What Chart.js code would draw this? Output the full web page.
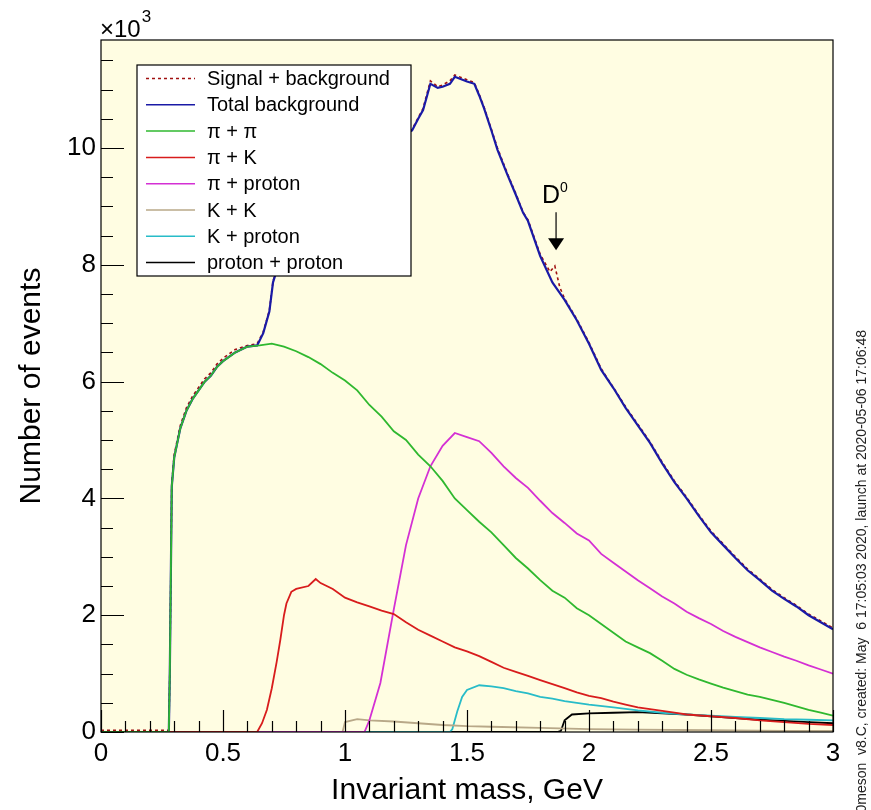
<!DOCTYPE html>
<html>
<head>
<meta charset="utf-8">
<script src="https://cdn.jsdelivr.net/npm/chart.js@4.4.1/dist/chart.umd.min.js"></script>
<style>
  html, body { margin: 0; padding: 0; background: #fff; }
</style>
</head>
<body>
<canvas id="chart" width="871" height="810"></canvas>
<script>
// invariant mass in GeV, counts in units of 10^3 events
const totalMass = [0, 0.27, 0.278, 0.282, 0.29, 0.30, 0.31, 0.325, 0.35, 0.375, 0.40, 0.425, 0.45, 0.475, 0.50, 0.55, 0.60, 0.64, 0.665, 0.69,
  0.705, 0.72, 0.75, 0.80, 0.90, 1.00, 1.10, 1.20, 1.275, 1.30, 1.32, 1.35, 1.38, 1.40, 1.43, 1.45, 1.50, 1.53, 1.55, 1.57,
  1.60, 1.625, 1.665, 1.70, 1.73, 1.75, 1.80, 1.85, 1.90, 1.95, 2.00, 2.05, 2.10, 2.15, 2.20, 2.25, 2.30, 2.35, 2.40, 2.45,
  2.50, 2.55, 2.60, 2.65, 2.70, 2.75, 2.80, 2.85, 2.90, 2.95, 3.00];
const totalCounts = [0, 0, 0, 1.0, 4.2, 4.7, 4.9, 5.2, 5.5, 5.7, 5.85, 6.0, 6.1, 6.25, 6.35, 6.5, 6.6, 6.62, 6.83, 7.2,
  7.7, 7.9, 8.4, 8.9, 9.5, 9.8, 10.0, 10.15, 10.3, 10.5, 10.65, 11.1, 11.03, 11.05, 11.1, 11.22, 11.14, 11.1, 10.9, 10.68,
  10.3, 9.97, 9.55, 9.2, 8.89, 8.75, 8.15, 7.7, 7.4, 7.05, 6.65, 6.2, 5.89, 5.55, 5.25, 4.95, 4.6, 4.28, 4.0, 3.7,
  3.42, 3.2, 2.98, 2.77, 2.6, 2.42, 2.28, 2.15, 2.0, 1.88, 1.76];

const signalMass = [0, 0.27, 0.278, 0.282, 0.29, 0.30, 0.31, 0.325, 0.35, 0.375, 0.40, 0.425, 0.45, 0.475, 0.50, 0.55, 0.60, 0.64, 0.665, 0.69,
  0.705, 0.72, 0.75, 0.80, 0.90, 1.00, 1.10, 1.20, 1.275, 1.30, 1.32, 1.35, 1.38, 1.40, 1.43, 1.45, 1.50, 1.53, 1.55, 1.57,
  1.60, 1.625, 1.665, 1.70, 1.73, 1.75, 1.80, 1.84, 1.86, 1.88, 1.90, 1.95, 2.00, 2.05, 2.10, 2.15, 2.20, 2.25, 2.30, 2.35,
  2.40, 2.45, 2.50, 2.55, 2.60, 2.65, 2.70, 2.75, 2.80, 2.85, 2.90, 2.95, 3.00];
const signalCounts = [0.03, 0.03, 0.03, 1.0, 4.25, 4.75, 4.95, 5.25, 5.55, 5.75, 5.9, 6.05, 6.15, 6.3, 6.4, 6.55, 6.62, 6.65, 6.85, 7.22,
  7.72, 7.92, 8.42, 8.92, 9.52, 9.82, 10.02, 10.17, 10.32, 10.52, 10.68, 11.15, 11.05, 11.08, 11.15, 11.25, 11.17, 11.12, 10.92, 10.7,
  10.32, 10.0, 9.57, 9.22, 8.9, 8.77, 8.18, 7.88, 7.98, 7.62, 7.42, 7.07, 6.67, 6.22, 5.9, 5.57, 5.27, 4.97, 4.62, 4.3,
  4.02, 3.72, 3.44, 3.22, 3.0, 2.79, 2.62, 2.44, 2.3, 2.17, 2.02, 1.9, 1.78];

const pipiMass = [0, 0.278, 0.282, 0.29, 0.30, 0.31, 0.325, 0.35, 0.375, 0.40, 0.425, 0.45, 0.475, 0.50, 0.55, 0.60, 0.65, 0.70, 0.75, 0.80,
  0.85, 0.90, 0.95, 1.00, 1.05, 1.10, 1.15, 1.20, 1.25, 1.30, 1.35, 1.40, 1.45, 1.50, 1.55, 1.60, 1.65, 1.70, 1.75, 1.80,
  1.85, 1.90, 1.95, 2.00, 2.05, 2.10, 2.15, 2.20, 2.25, 2.30, 2.35, 2.40, 2.45, 2.50, 2.55, 2.60, 2.65, 2.70, 2.75, 2.80,
  2.85, 2.90, 2.95, 3.00];
const pipiCounts = [0, 0, 1.0, 4.2, 4.7, 4.9, 5.2, 5.5, 5.7, 5.85, 6.0, 6.1, 6.25, 6.35, 6.5, 6.6, 6.62, 6.65, 6.6, 6.52,
  6.42, 6.3, 6.15, 6.02, 5.85, 5.6, 5.4, 5.15, 5.0, 4.75, 4.55, 4.3, 4.0, 3.8, 3.6, 3.42, 3.2, 2.98, 2.8, 2.6,
  2.42, 2.3, 2.12, 2.0, 1.85, 1.7, 1.55, 1.45, 1.35, 1.22, 1.08, 0.98, 0.9, 0.83, 0.76, 0.7, 0.64, 0.6, 0.55, 0.5,
  0.44, 0.38, 0.33, 0.28];

const piKMass = [0, 0.64, 0.66, 0.68, 0.70, 0.72, 0.735, 0.75, 0.76, 0.78, 0.80, 0.85, 0.88, 0.90, 0.95, 1.00, 1.05, 1.10, 1.15, 1.20,
  1.25, 1.30, 1.35, 1.40, 1.45, 1.50, 1.55, 1.60, 1.65, 1.70, 1.75, 1.80, 1.85, 1.90, 1.95, 2.00, 2.05, 2.10, 2.15, 2.20,
  2.25, 2.30, 2.35, 2.40, 2.50, 2.60, 2.70, 2.80, 2.90, 3.00];
const piKCounts = [0, 0, 0.15, 0.38, 0.75, 1.2, 1.58, 2.0, 2.2, 2.4, 2.45, 2.5, 2.62, 2.55, 2.45, 2.3, 2.22, 2.15, 2.08, 2.02,
  1.88, 1.75, 1.65, 1.55, 1.45, 1.38, 1.3, 1.2, 1.1, 1.03, 0.96, 0.89, 0.82, 0.75, 0.68, 0.62, 0.58, 0.52, 0.47, 0.42,
  0.39, 0.36, 0.33, 0.3, 0.27, 0.24, 0.2, 0.17, 0.14, 0.12];

const piPMass = [0, 1.08, 1.10, 1.145, 1.20, 1.25, 1.30, 1.35, 1.40, 1.45, 1.50, 1.55, 1.60, 1.65, 1.70, 1.75, 1.80, 1.85, 1.90, 1.95,
  2.00, 2.05, 2.10, 2.15, 2.20, 2.25, 2.30, 2.35, 2.40, 2.45, 2.50, 2.55, 2.60, 2.65, 2.70, 2.75, 2.80, 2.85, 2.90, 2.95, 3.00];
const piPCounts = [0, 0, 0.2, 0.84, 2.1, 3.2, 4.0, 4.55, 4.9, 5.12, 5.05, 4.98, 4.78, 4.55, 4.35, 4.18, 3.96, 3.75, 3.58, 3.4,
  3.28, 3.05, 2.9, 2.75, 2.6, 2.46, 2.32, 2.2, 2.06, 1.95, 1.85, 1.73, 1.63, 1.54, 1.45, 1.37, 1.29, 1.22, 1.14, 1.07, 1.0];

const KKMass = [0, 0.99, 1.0, 1.05, 1.1, 1.2, 1.3, 1.4, 1.5, 1.6, 1.8, 2.0, 2.2, 2.5, 2.8, 3.0];
const KKCounts = [0, 0, 0.17, 0.22, 0.2, 0.18, 0.15, 0.12, 0.1, 0.09, 0.07, 0.05, 0.04, 0.03, 0.02, 0.02];

const KPMass = [0, 1.43, 1.44, 1.46, 1.48, 1.50, 1.55, 1.60, 1.65, 1.70, 1.75, 1.80, 1.85, 1.90, 1.95, 2.00, 2.10, 2.20, 2.30, 2.40,
  2.50, 2.60, 2.70, 2.80, 2.90, 3.00];
const KPCounts = [0, 0, 0.05, 0.35, 0.6, 0.72, 0.8, 0.78, 0.75, 0.7, 0.66, 0.6, 0.57, 0.53, 0.5, 0.47, 0.42, 0.37, 0.33, 0.3,
  0.28, 0.26, 0.24, 0.22, 0.21, 0.2];

const PPMass = [0, 1.87, 1.885, 1.9, 1.93, 2.0, 2.1, 2.2, 2.3, 2.4, 2.5, 2.6, 2.7, 2.8, 2.9, 3.0];
const PPCounts = [0, 0, 0.02, 0.2, 0.3, 0.32, 0.33, 0.34, 0.32, 0.3, 0.27, 0.24, 0.21, 0.19, 0.17, 0.15];

const d0Mass = 1.865;
const d0ArrowFrom = 8.9;
const d0ArrowTo = 8.25;

const FONT = '"Liberation Sans", Arial, Helvetica, sans-serif';
Chart.defaults.font.family = FONT;

function pts(xs, ys) {
  return xs.map((x, i) => ({ x: x, y: ys[i] }));
}

function histSet(label, xs, ys, color, order, extra) {
  return Object.assign({
    label: label,
    data: pts(xs, ys),
    borderColor: color,
    backgroundColor: color,
    borderWidth: 1.8,
    pointRadius: 0,
    tension: 0,
    fill: false,
    order: order
  }, extra || {});
}

const rootStyle = {
  id: 'rootStyle',
  beforeDraw(chart) {
    const { ctx, chartArea: a } = chart;
    ctx.save();
    ctx.fillStyle = '#ffffff';
    ctx.fillRect(0, 0, chart.width, chart.height);
    ctx.fillStyle = '#fffde2';
    ctx.fillRect(a.left, a.top, a.right - a.left, a.bottom - a.top);
    ctx.restore();
  },
  afterDatasetsDraw(chart) {
    const { ctx, chartArea: a } = chart;
    const xs = chart.scales.x, ys = chart.scales.y;
    ctx.save();

    // frame + inward ticks
    ctx.strokeStyle = '#000';
    ctx.lineWidth = 1.2;
    ctx.strokeRect(a.left, a.top, a.right - a.left, a.bottom - a.top);
    ctx.beginPath();
    for (let i = 0; i <= 30; i++) {
      const px = Math.round(xs.getPixelForValue(i / 10)) + 0.5;
      const len = i % 5 === 0 ? 22 : 11;
      ctx.moveTo(px, a.bottom);
      ctx.lineTo(px, a.bottom - len);
    }
    for (let i = 0; i * 0.5 <= ys.max; i++) {
      const py = Math.round(ys.getPixelForValue(i * 0.5)) + 0.5;
      const len = i % 4 === 0 ? 23 : 12;
      ctx.moveTo(a.left, py);
      ctx.lineTo(a.left + len, py);
    }
    ctx.stroke();

    // legend box
    const lx = a.left + 36, ly = a.top + 25, lw = 274, lh = 211;
    ctx.fillStyle = '#fff';
    ctx.fillRect(lx, ly, lw, lh);
    ctx.lineWidth = 1.2;
    ctx.strokeStyle = '#000';
    ctx.strokeRect(lx, ly, lw, lh);
    ctx.font = '20px ' + FONT;
    ctx.textBaseline = 'middle';
    chart.data.datasets.forEach((ds, i) => {
      const y = ly + 13.5 + i * 26.3;
      ctx.beginPath();
      ctx.setLineDash(ds.borderDash || []);
      ctx.strokeStyle = ds.borderColor;
      ctx.lineWidth = 1.5;
      ctx.moveTo(lx + 9, y);
      ctx.lineTo(lx + 58, y);
      ctx.stroke();
      ctx.setLineDash([]);
      ctx.fillStyle = '#000';
      ctx.fillText(ds.label, lx + 70, y + 1);
    });

    // D0 arrow
    const ax = xs.getPixelForValue(d0Mass);
    const ay1 = ys.getPixelForValue(d0ArrowFrom);
    const ay2 = ys.getPixelForValue(d0ArrowTo);
    ctx.strokeStyle = '#000';
    ctx.lineWidth = 1.2;
    ctx.beginPath();
    ctx.moveTo(ax, ay1);
    ctx.lineTo(ax, ay2 - 10);
    ctx.stroke();
    ctx.fillStyle = '#000';
    ctx.beginPath();
    ctx.moveTo(ax - 8, ay2 - 12);
    ctx.lineTo(ax + 8, ay2 - 12);
    ctx.lineTo(ax, ay2);
    ctx.closePath();
    ctx.fill();
    ctx.textBaseline = 'alphabetic';
    ctx.textAlign = 'left';
    ctx.font = '25px ' + FONT;
    ctx.fillText('D', ax - 14, ay1 - 9);
    ctx.font = '14px ' + FONT;
    ctx.fillText('0', ax + 4, ay1 - 20);

    // x10^3 exponent
    ctx.font = '24px ' + FONT;
    const mult = '\u00d710';
    ctx.fillText(mult, a.left - 1, a.top - 3);
    const mw = ctx.measureText(mult).width;
    ctx.font = '17px ' + FONT;
    ctx.fillText('3', a.left + mw, a.top - 18);

    // run stamp on the right
    ctx.translate(862, 330);
    ctx.rotate(-Math.PI / 2);
    ctx.textAlign = 'right';
    ctx.textBaseline = 'middle';
    ctx.font = '14px ' + FONT;
    ctx.fillStyle = '#222';
    ctx.fillText('D0meson  v8.C, created: May  6 17:05:03 2020, launch at 2020-05-06 17:06:48', 0, 0);
    ctx.restore();
  }
};

new Chart(document.getElementById('chart'), {
  type: 'line',
  data: {
    datasets: [
      histSet('Signal + background', signalMass, signalCounts, '#a01010', 9, { borderDash: [3, 3], borderWidth: 1.6 }),
      histSet('Total background', totalMass, totalCounts, '#1a1aa6', 8, { borderWidth: 2.2 }),
      histSet('\u03c0 + \u03c0', pipiMass, pipiCounts, '#2fb82f', 1),
      histSet('\u03c0 + K', piKMass, piKCounts, '#d81c1c', 2),
      histSet('\u03c0 + proton', piPMass, piPCounts, '#d430d4', 3),
      histSet('K + K', KKMass, KKCounts, '#b8a888', 4),
      histSet('K + proton', KPMass, KPCounts, '#28bcc8', 5),
      histSet('proton + proton', PPMass, PPCounts, '#000000', 6)
    ]
  },
  options: {
    responsive: false,
    animation: false,
    events: [],
    layout: { padding: { left: 0, right: 38, top: 40, bottom: 0 } },
    plugins: { legend: { display: false }, tooltip: { enabled: false } },
    scales: {
      x: {
        type: 'linear', min: 0, max: 3,
        grid: { display: false, drawTicks: false },
        border: { display: false },
        ticks: { stepSize: 0.5, includeBounds: false, padding: 6, color: '#000', font: { size: 26 }, maxRotation: 0,
          callback: (v) => String(Math.round(v * 10) / 10) },
        title: { display: true, text: 'Invariant mass, GeV', color: '#000', font: { size: 30 }, padding: { top: 0, bottom: 1 } },
        afterFit(scale) { scale.height = 78; }
      },
      y: {
        type: 'linear', min: 0, max: 11.85,
        grid: { display: false, drawTicks: false },
        border: { display: false },
        ticks: { stepSize: 2, includeBounds: false, padding: 5, color: '#000', font: { size: 26 },
          callback: (v) => String(v) },
        title: { display: true, text: 'Number of events', color: '#000', font: { size: 30 }, padding: { top: 14, bottom: 0 } },
        afterFit(scale) { scale.width = 101; }
      }
    }
  },
  plugins: [rootStyle]
});
</script>
</body>
</html>
